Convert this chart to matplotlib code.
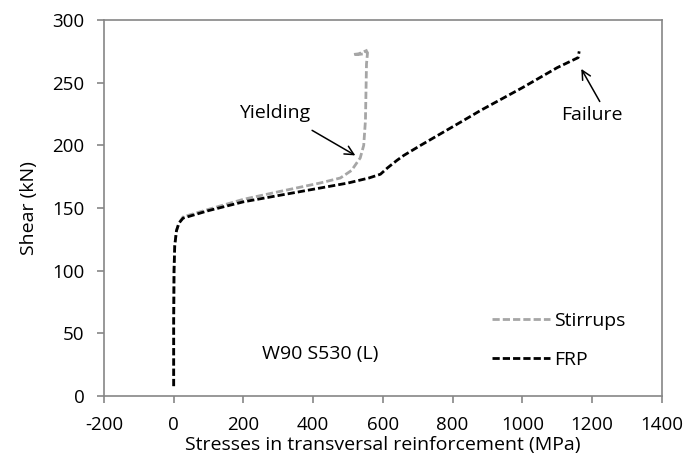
import matplotlib
matplotlib.use('Agg')
import matplotlib.pyplot as plt

plt.rcParams['font.family'] = ['Open Sans', 'DejaVu Sans']
plt.rcParams['font.size'] = 14
plt.rcParams['axes.unicode_minus'] = False

# Stirrups (grey dashed)
stirrups_x = [0, 0, 1, 3, 8, 15, 27, 100, 200, 300, 420, 478, 510, 535, 545, 550, 552, 553,
              556, 545, 530, 515, 530, 548, 556]
stirrups_y = [8, 60, 100, 120, 132, 138, 143, 149, 157, 163, 170, 174, 180, 190, 200, 220,
              250, 265, 274, 273, 272.5, 272.5, 273, 275, 276]

# FRP (black dashed)
frp_x = [0, 0, 1, 3, 8, 15, 27, 100, 200, 300, 400, 500, 560, 593, 613, 640, 660, 708,
         832, 881, 1000, 1100, 1160, 1163]
frp_y = [8, 60, 100, 120, 132, 138, 142, 148, 155, 160, 165, 170, 174, 177, 182, 188, 192,
         200, 220, 228, 246, 262, 270, 275]

xticks = [-200, 0, 200, 400, 600, 800, 1000, 1200, 1400]
yticks = [0, 50, 100, 150, 200, 250, 300]

fig = plt.figure(figsize=(6.93, 4.65), dpi=100)
ax = fig.add_axes([0.150, 0.148, 0.805, 0.809])

dash = (0, (2.6, 1.1))
ax.plot(stirrups_x, stirrups_y, color='#a6a6a6', lw=2.0, ls=dash, label='Stirrups')
ax.plot(frp_x, frp_y, color='black', lw=2.0, ls=dash, label='FRP')

ax.set_xlim(-200, 1400)
ax.set_ylim(0, 300)
ax.set_xticks(xticks)
ax.set_yticks(yticks)
for s in ax.spines.values():
    s.set_color('#868686')
    s.set_linewidth(1.2)
ax.tick_params(direction='out', length=5, color='#868686', width=1.2, labelsize=13.5,
               labelcolor='black')
ax.tick_params(axis='y', pad=9)
ax.tick_params(axis='x', pad=9)

ax.set_xlabel('Stresses in transversal reinforcement (MPa)', fontsize=14, labelpad=2)
ax.set_ylabel('Shear (kN)', fontsize=14, labelpad=10)

# annotations
arrow = dict(arrowstyle='->', color='black', lw=1.1, shrinkA=0, shrinkB=0, mutation_scale=16)
ax.text(290, 226, 'Yielding', ha='center', va='center', fontsize=14)
ax.annotate('', xy=(521, 192), xytext=(397, 212), arrowprops=arrow)
ax.text(1200, 224, 'Failure', ha='center', va='center', fontsize=14)
ax.annotate('', xy=(1169, 261), xytext=(1222, 235), arrowprops=arrow)
ax.text(420, 34, 'W90 S530 (L)', ha='center', va='center', fontsize=14)

ax.legend(loc='upper left', bbox_to_anchor=(0.695, 0.225), frameon=False, fontsize=14,
          handlelength=3.0, handletextpad=0.2, labelspacing=1.1, borderaxespad=0,
          borderpad=0)

fig.savefig('out.png', dpi=100, facecolor='white')
